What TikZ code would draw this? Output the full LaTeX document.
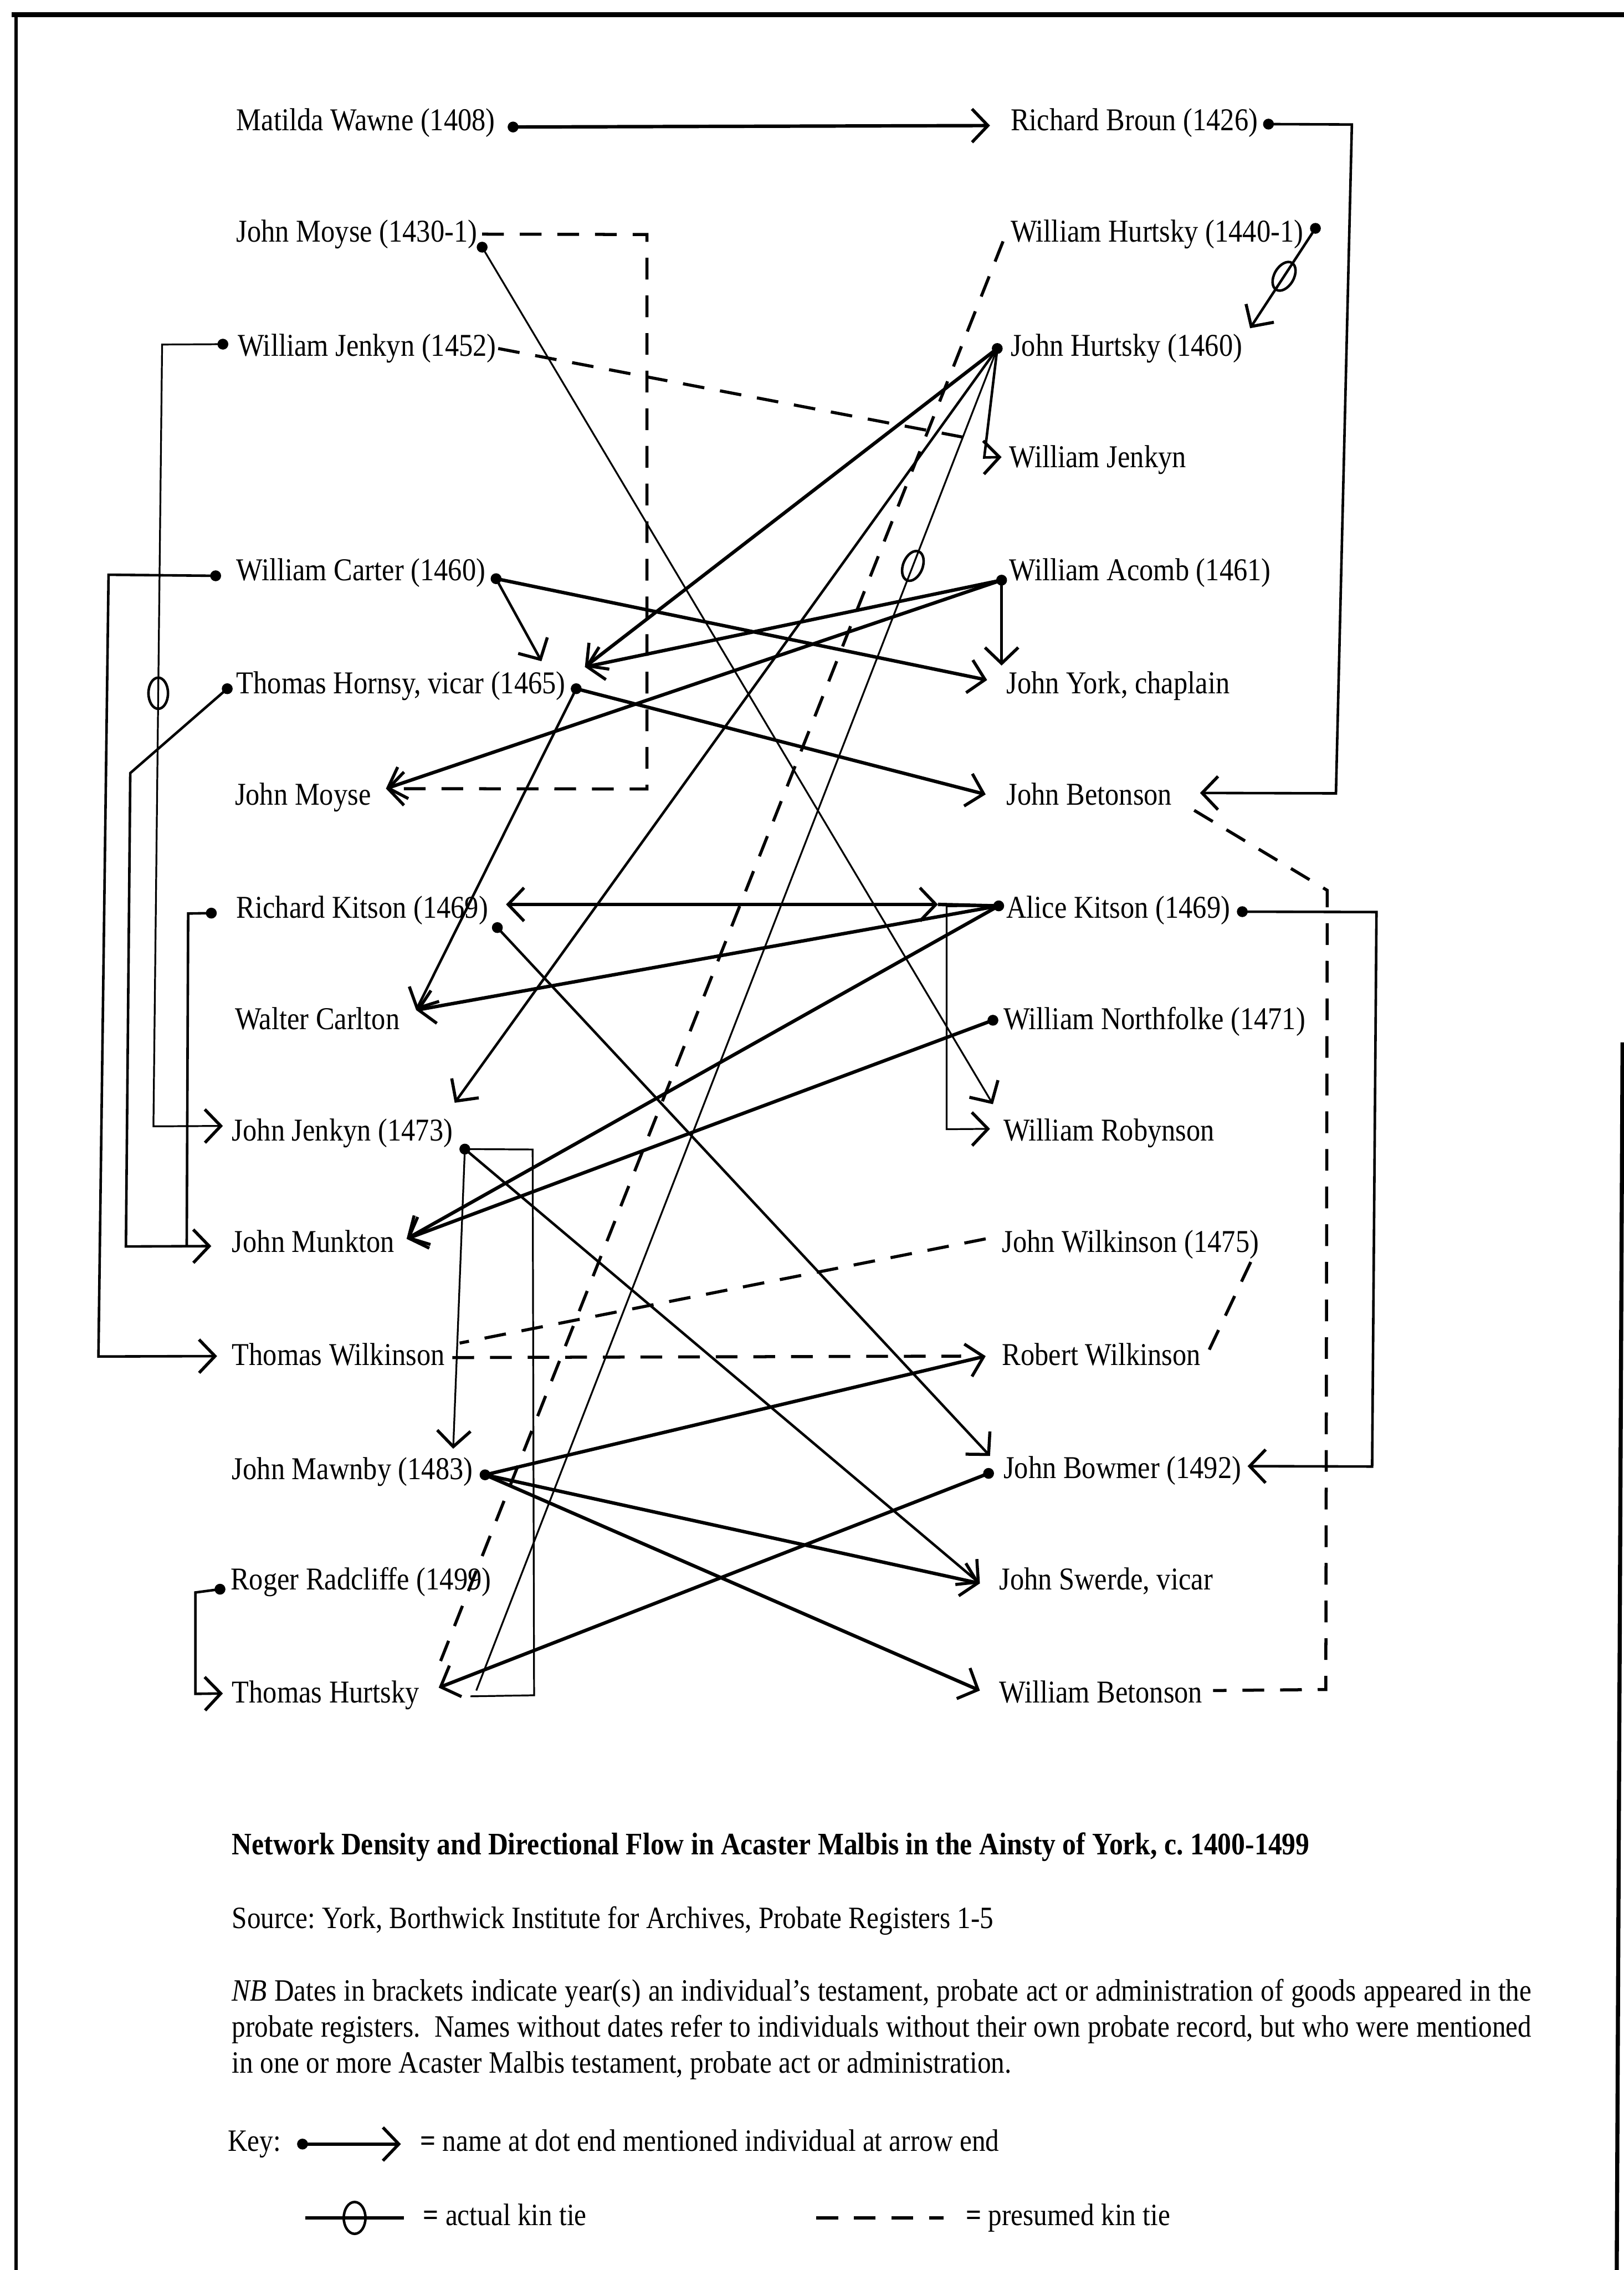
\documentclass[tikz,border=0pt]{standalone}
\usepackage{fontspec}
\setmainfont{Liberation Serif}[FakeStretch=0.88]
\usetikzlibrary{arrows.meta,calc,shapes.geometric}
\frenchspacing
\begin{document}
\begin{tikzpicture}[x=0.02cm,y=-0.02cm,
  nm/.style={anchor=base west, inner sep=0pt, font=\fontsize{12.5}{14}\selectfont, text height=8.5pt, text depth=2.5pt},
  captxt/.style={anchor=base west, inner sep=0pt, font=\fontsize{12.2}{14}\selectfont},
  thk/.style={line width=1.35pt},
  ln/.style={line width=1pt},
  thinln/.style={line width=0.7pt},
  arr/.style={-{Straight Barb[length=0.22cm,width=0.46cm,line width=1.2pt]}},
  arrboth/.style={{Straight Barb[length=0.22cm,width=0.46cm,line width=1.2pt]}-{Straight Barb[length=0.22cm,width=0.46cm,line width=1.2pt]}},
  dsh/.style={line width=1.2pt, dash pattern=on 0.3cm off 0.22cm},
  kinO/.style={draw, ellipse, inner sep=0pt, line width=1pt, minimum width=0.27cm, minimum height=0.43cm},
  dotc/.style={radius=0.075cm}]
\useasboundingbox (0,0) rectangle (1122,1568);
% frame
\draw[line width=2pt] (8,10) -- (1122,10);
\draw[line width=1.4pt] (11,9) -- (11,1568);
\draw[line width=1.6pt] (1121,720) -- (1117,1568);
% left column
\node[nm] (MW) at (163,90) {Matilda Wawne (1408)};
\node[nm] (JMo) at (163,167) {John Moyse (1430-1)};
\node[nm] (WJe) at (164,246) {William Jenkyn (1452)};
\node[nm] (WCa) at (163,401) {William Carter (1460)};
\node[nm] (THo) at (163,479) {Thomas Hornsy, vicar (1465)};
\node[nm] (JMy) at (162,556) {John Moyse};
\node[nm] (RKi) at (163,634) {Richard Kitson (1469)};
\node[nm] (WCl) at (162,711) {Walter Carlton};
\node[nm] (JJe) at (160,788) {John Jenkyn (1473)};
\node[nm] (JMu) at (160,865) {John Munkton};
\node[nm] (TWi) at (160,943) {Thomas Wilkinson};
\node[nm] (JMa) at (160,1022) {John Mawnby (1483)};
\node[nm] (RRa) at (159,1098) {Roger Radcliffe (1499)};
\node[nm] (THu) at (160,1176) {Thomas Hurtsky};
% right column
\node[nm] (RBr) at (698,90) {Richard Broun (1426)};
\node[nm] (WHu) at (698,167) {William Hurtsky (1440-1)};
\node[nm] (JHu) at (698,246) {John Hurtsky (1460)};
\node[nm] (WJn) at (697,323) {William Jenkyn};
\node[nm] (WAc) at (697,401) {William Acomb (1461)};
\node[nm] (JYo) at (695,479) {John York, chaplain};
\node[nm] (JBe) at (695,556) {John Betonson};
\node[nm] (AKi) at (695,634) {Alice Kitson (1469)};
\node[nm] (WNo) at (693,711) {William Northfolke (1471)};
\node[nm] (WRo) at (693,788) {William Robynson};
\node[nm] (JWi) at (692,865) {John Wilkinson (1475)};
\node[nm] (RWi) at (692,943) {Robert Wilkinson};
\node[nm] (JBo) at (693,1021) {John Bowmer (1492)};
\node[nm] (JSw) at (690,1098) {John Swerde, vicar};
\node[nm] (WBe) at (690,1176) {William Betonson};
% connector points
\path (RBr.west) ++(-14,2) coordinate (RBa);
\path (RBr.east) ++(7,1) coordinate (RBd);
\path (JBe.east) ++(19,-3) coordinate (JBa2);
\path (WHu.east) ++(8,-4) coordinate (WHd);
\path (JHu.east) ++(5,-14) coordinate (JHa);
\path (MW.east) ++(12,3) coordinate (MWd);
\path (JMo.east) ++(3,9) coordinate (JMod);
\path (JMo.east) ++(3,0) coordinate (JMoe);
\path (JMy.east) ++(10,-6) coordinate (JMya);
\path (WRo.west) ++(-7,-20) coordinate (WRa1);
\path (WJe.east) ++(1,0) coordinate (WJee);
\path (WJn.west) ++(-5,-2) coordinate (WJna);
\path (WJe.west) ++(-10,-3) coordinate (WJed);
\path (JHu.west) ++(-9,0) coordinate (JHd);
\path (JJe.west) ++(-6,-5) coordinate (JJa1);
\path (WCa.west) ++(-14,2) coordinate (WCwd);
\path (WCa.east) ++(7,4) coordinate (WCed);
\path (TWi.west) ++(-10,-1) coordinate (TWa);
\path (THo.west) ++(-6,2) coordinate (THwd);
\path (THo.east) ++(7,2) coordinate (THed);
\path (JMu.west) ++(-14,1) coordinate (JMua1);
\path (RKi.west) ++(-17,2) coordinate (RKwd);
\path (RKi.east) ++(6,12) coordinate (RKd);
\path (RRa.west) ++(-7,5) coordinate (RRd);
\path (THu.west) ++(-6,-1) coordinate (THua1);
\path (THo.east) ++(-17,-17) coordinate (THa1);
\path (THo.east) ++(13,-13) coordinate (THa2);
\path (JYo.west) ++(-13,-4) coordinate (JYa1);
\path (JYo.west) ++(-3,-14) coordinate (JYa2);
\path (WAc.west) ++(-5,5) coordinate (WAd);
\path (JBe.west) ++(-14,-2) coordinate (JBa1);
\path (WCl.east) ++(11,-8) coordinate (WCla);
\path (JJe.east) ++(1,-21) coordinate (JJa2);
\path (JMu.east) ++(8,-4) coordinate (JMua2);
\path (RKi.east) ++(12,-4) coordinate (RKa);
\path (AKi.west) ++(-47,-4) coordinate (AKa);
\path (AKi.west) ++(-5,-3) coordinate (AKwd);
\path (AKi.east) ++(8,1) coordinate (AKed);
\path (WRo.west) ++(-9,-3) coordinate (WRa2);
\path (WNo.west) ++(-7,-1) coordinate (WNd);
\path (JJe.east) ++(8,11) coordinate (JJd);
\path (JMa.east) ++(-14,-16) coordinate (JMaa);
\path (JMa.east) ++(8,2) coordinate (JMad);
\path (RWi.west) ++(-11,-1) coordinate (RWa);
\path (JBo.west) ++(-9,-10) coordinate (JBoa1);
\path (JBo.east) ++(4,-3) coordinate (JBoa2);
\path (JBo.west) ++(-10,2) coordinate (JBod);
\path (JSw.west) ++(-13,1) coordinate (JSa);
\path (WBe.west) ++(-13,-3) coordinate (WBa);
\path (THu.east) ++(13,-5) coordinate (THua2);
\path (THu.east) ++(39,-3) coordinate (THue);
\path (THu.east) ++(35,1) coordinate (THub);
\path (WHu.west) ++(-5,5) coordinate (WHw);
\path (THu.east) ++(13,-20) coordinate (THud);
\path (JBe.east) ++(15,9) coordinate (JBed);
\path (JWi.west) ++(-11,-4) coordinate (JWw);
\path (JWi.east) ++(-6,12) coordinate (JWe);
\path (RWi.east) ++(3,0) coordinate (RWe);
\path (RWi.west) ++(-28,-1) coordinate (RWd);
\path (TWi.east) ++(10,-10) coordinate (TWe1);
\path (TWi.east) ++(5,0) coordinate (TWe2);
\path (WBe.east) ++(7,-3) coordinate (WBe2);
% connectors
\draw[thk,arr] (MWd) -- (RBa);
\draw[ln,arr] (RBd) -- (934,86) -- (923,548) -- (JBa2);
\draw[ln,arr] (WHd) -- node[kinO,pos=0.48,rotate=-30]{} (JHa);
\draw[dsh,arr] (JMoe) -- (447,162) -- (447,545) -- (JMya);
\draw[thinln,arr] (JMod) -- (WRa1);
\draw[dsh] (WJee) -- (676,304);
\draw[ln,arr] (JHd) -- (680,316) -- (WJna);
\draw[thinln,arr] (WJed) -- (112,238) -- node[kinO,pos=0.446]{} (106,778) -- (JJa1);
\draw[ln,arr] (WCwd) -- (75,397) -- (68,937) -- (TWa);
\draw[ln,arr] (THwd) -- (90,534) -- (87,861) -- (JMua1);
\draw[ln] (RKwd) -- (130,631) -- (129,861);
\draw[ln,arr] (RRd) -- (135,1100) -- (135,1170) -- (THua1);
\draw[ln,arr] (WCed) -- (THa1);
\draw[thk,arr] (WCed) -- (JYa1);
\draw[thk,arr] (THed) -- (JBa1);
\draw[ln,arr] (THed) -- (WCla);
\draw[ln,arr] (WAd) -- (JYa2);
\draw[thk,arr] (WAd) -- (THa2);
\draw[thk,arr] (WAd) -- (JMya);
\draw[thk,arr] (JHd) -- (THa2);
\draw[ln,arr] (JHd) -- (JJa2);
\draw[thinln] (JHd) -- node[kinO,pos=0.162,rotate=-22]{} (THue);
\draw[dsh] (WHw) -- (THud);
\draw[thk,arrboth] (RKa) -- (AKa);
\draw[thk] (AKa) -- (AKwd);
\draw[thinln,arr] (AKwd) -- (654,626) -- (654,780) -- (WRa2);
\draw[thk,arr] (AKwd) -- (WCla);
\draw[thk,arr] (AKwd) -- (JMua2);
\draw[thk,arr] (WNd) -- (JMua2);
\draw[ln,arr] (AKed) -- (951,630) -- (948,1013) -- (JBoa2);
\draw[dsh] (JBed) -- (917,615) -- (916,1167) -- (WBe2);
\draw[dsh] (JWw) -- (TWe1);
\draw[dsh] (TWe2) -- (RWd);
\draw[dsh] (JWe) -- (RWe);
\draw[thinln] (JJd) -- (368,794) -- (369,1171) -- (THub);
\draw[thinln,arr] (JJd) -- (JMaa);
\draw[ln,arr] (JJd) -- (JSa);
\draw[ln,arr] (RKd) -- (JBoa1);
\draw[thk,arr] (JMad) -- (RWa);
\draw[thk,arr] (JMad) -- (JSa);
\draw[thk,arr] (JMad) -- (WBa);
\draw[thk,arr] (JBod) -- (THua2);
% dots
\foreach \c in {MWd,RBd,WHd,JMod,WJed,JHd,WCwd,WCed,THwd,THed,WAd,RKwd,RKd,AKwd,AKed,WNd,JJd,JMad,JBod,RRd}
  \fill (\c) circle[dotc];
% caption
\node[captxt, font=\fontsize{12.3}{14}\selectfont\bfseries] (title) at (160,1281) {Network Density and Directional Flow in Acaster Malbis in the Ainsty of York, c. 1400-1499};
\node[captxt] (src) at (160,1332) {Source: York, Borthwick Institute for Archives, Probate Registers 1-5};
\node[captxt] (nb1) at (160,1382) {\makebox[17.96cm][s]{\textit{NB} Dates in brackets indicate year(s) an individual’s testament, probate act or administration of goods appeared in the}};
\node[captxt] (nb2) at (160,1407) {\makebox[17.96cm][s]{probate registers.\ \ Names without dates refer to individuals without their own probate record, but who were mentioned}};
\node[captxt] (nb3) at (160,1432) {in one or more Acaster Malbis testament, probate act or administration.};
% key
\node[captxt] (key) at (157,1486) {Key:};
\coordinate (k1a) at (209,1481);
\coordinate (k1b) at (277,1481);
\draw[thk,arr] (k1a) -- (k1b);
\fill (k1a) circle[dotc];
\node[captxt] (k1t) at (290,1486) {{\bfseries =} name at dot end mentioned individual at arrow end};
\coordinate (k2a) at (211,1532);
\coordinate (k2b) at (279,1532);
\draw[thk] (k2a) -- node[kinO,minimum width=0.3cm,minimum height=0.44cm]{} (k2b);
\node[captxt] (k2t) at (292,1537) {{\bfseries =} actual kin tie};
\coordinate (k3a) at (564,1532);
\coordinate (k3b) at (652,1532);
\draw[dsh] (k3a) -- (k3b);
\node[captxt] (k3t) at (667,1537) {{\bfseries =} presumed kin tie};
\end{tikzpicture}
\end{document}
